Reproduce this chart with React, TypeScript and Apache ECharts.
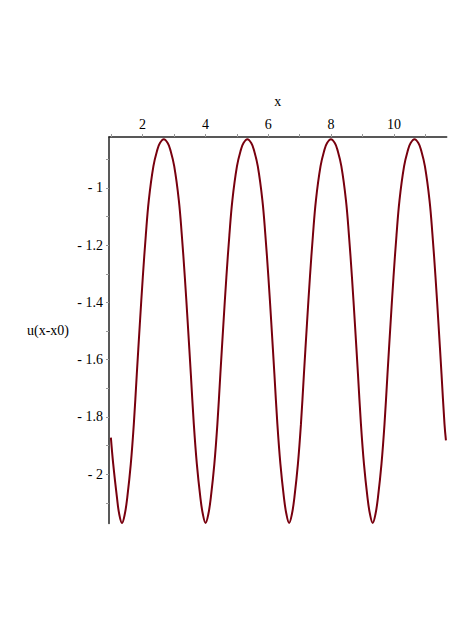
import React, { useEffect, useRef } from "react";
import * as echarts from "echarts";

const xValues: number[] = [
  0.99, 1.064, 1.182, 1.255,
  1.344, 1.433, 1.513, 1.624, 1.72, 1.815, 1.911, 2.006, 2.102, 2.197, 2.344, 2.468, 2.548, 2.675,
  2.802, 2.882, 3.006, 3.153, 3.248, 3.344, 3.439, 3.535, 3.63, 3.726, 3.837, 3.917,
  4.004, 4.093, 4.173, 4.284, 4.38, 4.475, 4.571, 4.666, 4.762, 4.857, 5.004, 5.128, 5.208, 5.335,
  5.462, 5.542, 5.666, 5.813, 5.908, 6.004, 6.099, 6.195, 6.29, 6.386, 6.497, 6.577,
  6.664, 6.753, 6.833, 6.944, 7.04, 7.135, 7.231, 7.326, 7.422, 7.517, 7.664, 7.788, 7.868, 7.995,
  8.122, 8.202, 8.326, 8.473, 8.568, 8.664, 8.759, 8.855, 8.95, 9.046, 9.157, 9.237,
  9.324, 9.413, 9.493, 9.604, 9.7, 9.795, 9.891, 9.986, 10.082, 10.177, 10.324, 10.448, 10.528, 10.655,
  10.782, 10.862, 10.986, 11.133, 11.228, 11.324, 11.419, 11.515, 11.61, 11.656,
];

// u(x-x0) values at those x positions
const yValues: number[] = [
  -1.872, -1.964, -2.08, -2.139,
  -2.17, -2.139, -2.08, -1.964, -1.825, -1.65, -1.476, -1.312, -1.165, -1.043, -0.924, -0.867, -0.844, -0.83,
  -0.844, -0.867, -0.924, -1.043, -1.165, -1.312, -1.476, -1.65, -1.825, -1.964, -2.08, -2.139,
  -2.17, -2.139, -2.08, -1.964, -1.825, -1.65, -1.476, -1.312, -1.165, -1.043, -0.924, -0.867, -0.844, -0.83,
  -0.844, -0.867, -0.924, -1.043, -1.165, -1.312, -1.476, -1.65, -1.825, -1.964, -2.08, -2.139,
  -2.17, -2.139, -2.08, -1.964, -1.825, -1.65, -1.476, -1.312, -1.165, -1.043, -0.924, -0.867, -0.844, -0.83,
  -0.844, -0.867, -0.924, -1.043, -1.165, -1.312, -1.476, -1.65, -1.825, -1.964, -2.08, -2.139,
  -2.17, -2.139, -2.08, -1.964, -1.825, -1.65, -1.476, -1.312, -1.165, -1.043, -0.924, -0.867, -0.844, -0.83,
  -0.844, -0.867, -0.924, -1.043, -1.165, -1.312, -1.476, -1.65, -1.825, -1.882,
];

const xTickValues: number[] = [1, 2, 3, 4, 5, 6, 7, 8, 9, 10, 11];
const xLabelValues: number[] = [2, 4, 6, 8, 10];
const yTickValues: number[] = [-0.9, -1.0, -1.1, -1.2, -1.3, -1.4, -1.5, -1.6, -1.7, -1.8, -1.9, -2.0, -2.1];
const yLabelValues: number[] = [-1, -1.2, -1.4, -1.6, -1.8, -2];

const FONT = "'Liberation Serif', 'DejaVu Serif', serif";

export default function App() {
  const ref = useRef<HTMLDivElement>(null);
  useEffect(() => {
    if (!ref.current) return;
    const chart = echarts.init(ref.current, undefined, { renderer: "svg" });
    const data = xValues.map((x, i) => [x, yValues[i]]);
    chart.setOption({
      animation: false,
      backgroundColor: "#ffffff",
      grid: { left: 109, top: 137, right: 24.3, bottom: 102.5, containLabel: false, outerBoundsMode: "none" },
      xAxis: {
        type: "value",
        position: "top",
        min: 0.93,
        max: 11.68,
        name: "x",
        nameLocation: "middle",
        nameGap: 29,
        nameTextStyle: { color: "#000", fontFamily: FONT, fontSize: 14 },
        axisLine: { show: true, onZero: false, lineStyle: { color: "#222", width: 1.5 } },
        axisTick: { show: true, inside: false, length: 3, customValues: xTickValues, lineStyle: { color: "#999" } },
        axisLabel: {
          customValues: xLabelValues,
          color: "#000",
          fontFamily: FONT,
          fontSize: 14,
          margin: 6,
          formatter: (v: number) => String(v),
        },
        splitLine: { show: false },
      },
      yAxis: {
        type: "value",
        min: -2.172,
        max: -0.822,
        name: "u(x-x0)",
        nameLocation: "middle",
        nameRotate: 0,
        nameGap: 40,
        nameTextStyle: { color: "#000", fontFamily: FONT, fontSize: 14 },
        axisLine: { show: true, onZero: false, lineStyle: { color: "#222", width: 1.5 } },
        axisTick: { show: true, inside: false, length: 3, customValues: yTickValues, lineStyle: { color: "#999" } },
        axisLabel: {
          customValues: yLabelValues,
          color: "#000",
          fontFamily: FONT,
          fontSize: 14,
          margin: 6,
          formatter: (v: number) => (v < 0 ? "- " + String(Math.abs(Number(v.toFixed(2)))) : String(v)),
        },
        splitLine: { show: false },
      },
      series: [
        {
          type: "line",
          data,
          showSymbol: false,
          smooth: 0.4,
          lineStyle: { color: "#78000E", width: 2 },
          clip: false,
        },
      ],
    });
    return () => chart.dispose();
  }, []);
  return (
    <div
      ref={ref}
      style={{ position: "absolute", left: 0, top: 0, width: 471, height: 626, background: "#fff" }}
    />
  );
}
